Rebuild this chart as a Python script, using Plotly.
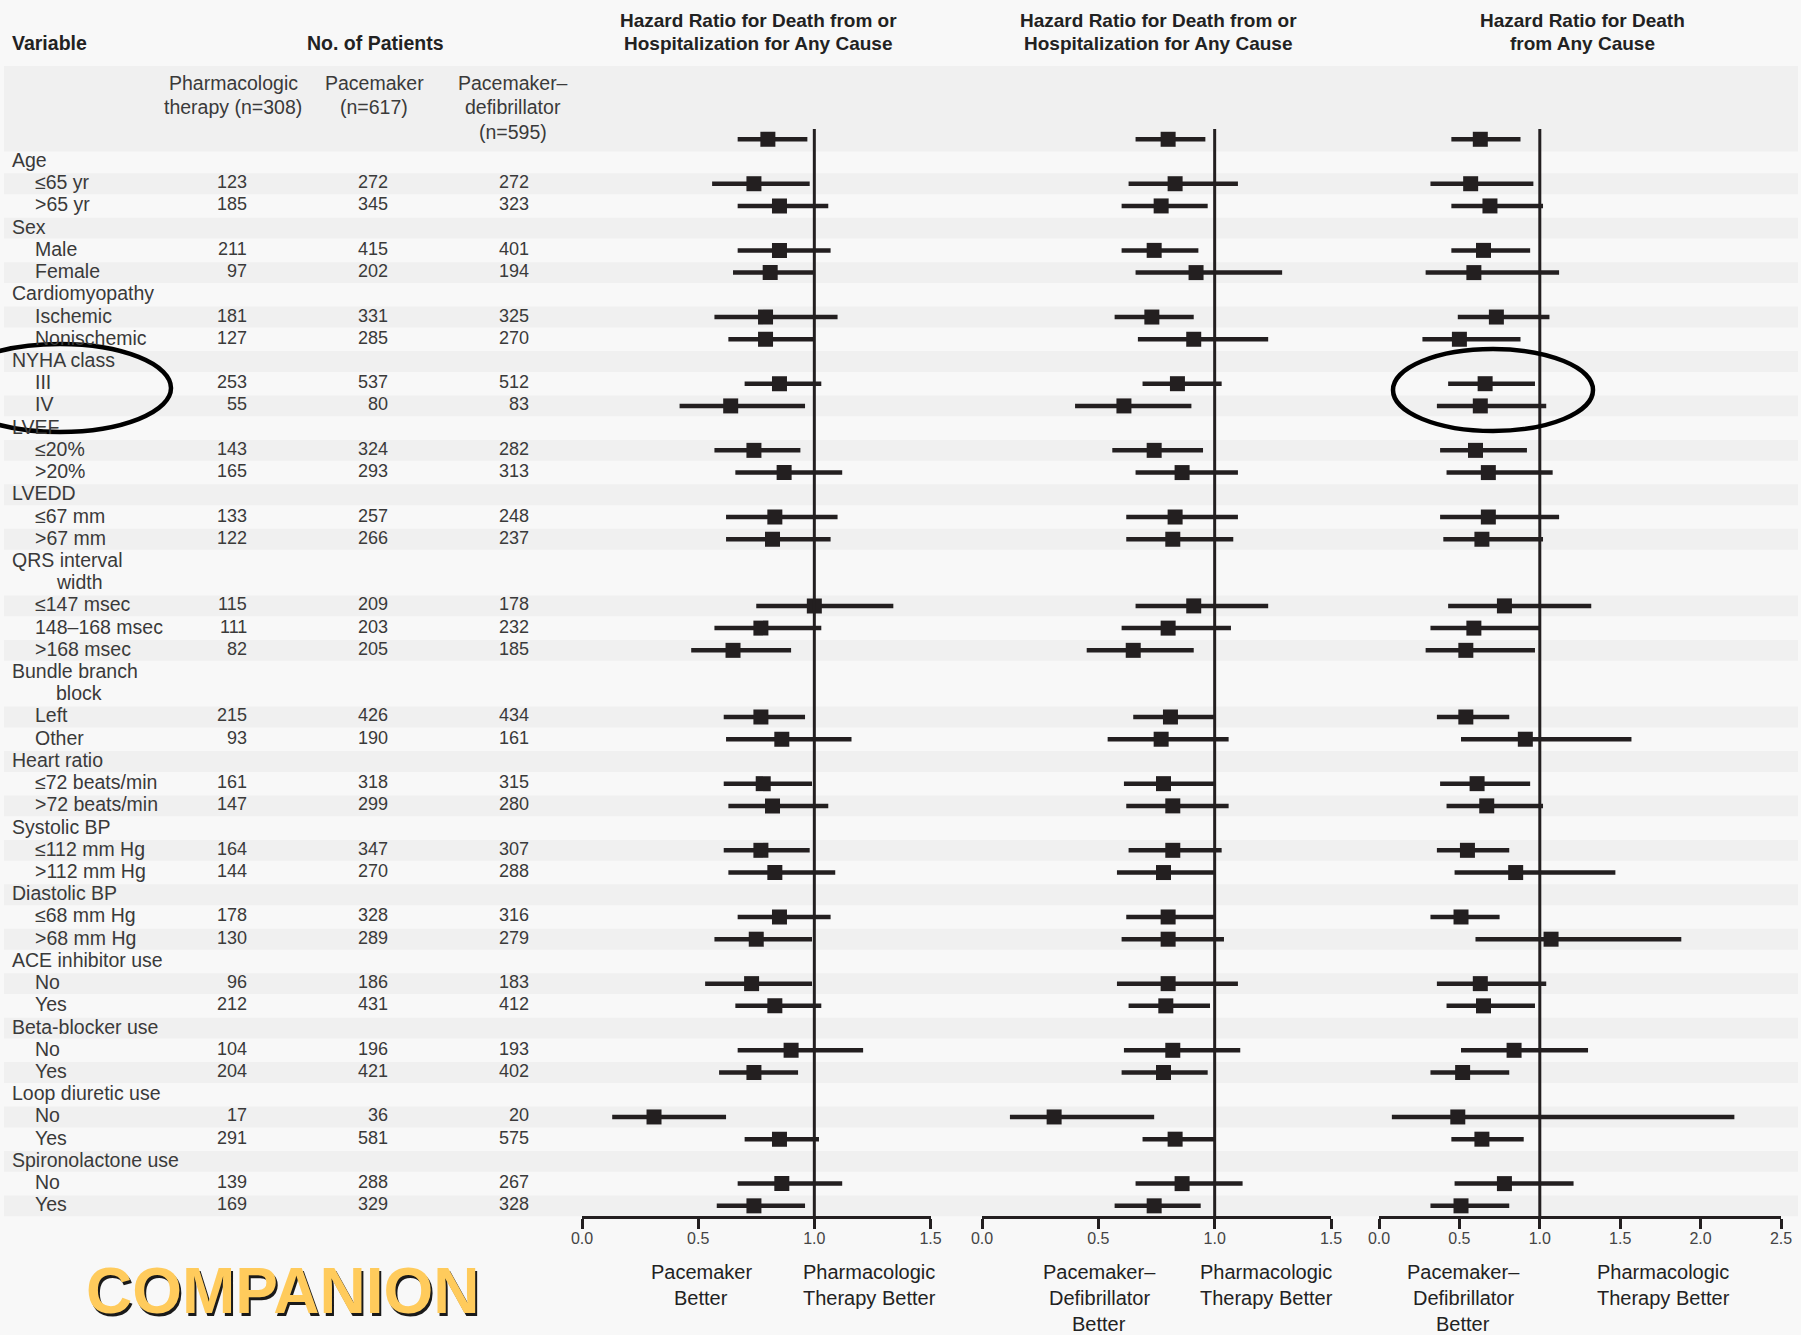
import plotly.graph_objects as go

W, H = 1801, 1335

# ---------------- data ----------------
group_labels = ["Age", "Sex", "Cardiomyopathy", "NYHA class", "LVEF", "LVEDD",
                "QRS interval\nwidth", "Bundle branch\nblock", "Heart ratio", "Systolic BP",
                "Diastolic BP", "ACE inhibitor use", "Beta-blocker use", "Loop diuretic use",
                "Spironolactone use"]
subgroup_labels = [["≤65 yr", ">65 yr"], ["Male", "Female"], ["Ischemic", "Nonischemic"],
                   ["III", "IV"], ["≤20%", ">20%"], ["≤67 mm", ">67 mm"],
                   ["≤147 msec", "148–168 msec", ">168 msec"], ["Left", "Other"],
                   ["≤72 beats/min", ">72 beats/min"], ["≤112 mm Hg", ">112 mm Hg"],
                   ["≤68 mm Hg", ">68 mm Hg"], ["No", "Yes"], ["No", "Yes"], ["No", "Yes"],
                   ["No", "Yes"]]

n_pharm = [123, 185, 211, 97, 181, 127, 253, 55, 143, 165, 133, 122, 115, 111, 82, 215, 93,
           161, 147, 164, 144, 178, 130, 96, 212, 104, 204, 17, 291, 139, 169]
n_pace = [272, 345, 415, 202, 331, 285, 537, 80, 324, 293, 257, 266, 209, 203, 205, 426, 190,
          318, 299, 347, 270, 328, 289, 186, 431, 196, 421, 36, 581, 288, 329]
n_icd = [272, 323, 401, 194, 325, 270, 512, 83, 282, 313, 248, 237, 178, 232, 185, 434, 161,
         315, 280, 307, 288, 316, 279, 183, 412, 193, 402, 20, 575, 267, 328]

# first entry = overall (all patients), then the 31 subgroups in table order
hr_p1 = [0.80, 0.74, 0.85, 0.85, 0.81, 0.79, 0.79, 0.85, 0.64, 0.74, 0.87, 0.83, 0.82, 1.00,
         0.77, 0.65, 0.77, 0.86, 0.78, 0.82, 0.77, 0.83, 0.85, 0.75, 0.73, 0.83, 0.90, 0.74,
         0.31, 0.85, 0.86, 0.74]
lo_p1 = [0.67, 0.56, 0.67, 0.67, 0.65, 0.57, 0.63, 0.70, 0.42, 0.57, 0.66, 0.62, 0.62, 0.75,
         0.57, 0.47, 0.61, 0.62, 0.61, 0.63, 0.61, 0.63, 0.67, 0.57, 0.53, 0.66, 0.67, 0.59,
         0.13, 0.70, 0.67, 0.58]
hi_p1 = [0.97, 0.98, 1.06, 1.07, 1.00, 1.10, 1.00, 1.03, 0.96, 0.94, 1.12, 1.10, 1.07, 1.34,
         1.03, 0.90, 0.96, 1.16, 0.99, 1.06, 0.98, 1.09, 1.07, 0.99, 0.99, 1.03, 1.21, 0.93,
         0.62, 1.02, 1.12, 0.96]

hr_p2 = [0.80, 0.83, 0.77, 0.74, 0.92, 0.73, 0.91, 0.84, 0.61, 0.74, 0.86, 0.83, 0.82, 0.91,
         0.80, 0.65, 0.81, 0.77, 0.78, 0.82, 0.82, 0.78, 0.80, 0.80, 0.80, 0.79, 0.82, 0.78,
         0.31, 0.83, 0.86, 0.74]
lo_p2 = [0.66, 0.63, 0.60, 0.60, 0.66, 0.57, 0.67, 0.69, 0.40, 0.56, 0.66, 0.62, 0.62, 0.66,
         0.60, 0.45, 0.65, 0.54, 0.61, 0.62, 0.63, 0.58, 0.62, 0.60, 0.58, 0.63, 0.61, 0.60,
         0.12, 0.69, 0.66, 0.57]
hi_p2 = [0.96, 1.10, 0.97, 0.93, 1.29, 0.91, 1.23, 1.03, 0.90, 0.95, 1.10, 1.10, 1.08, 1.23,
         1.07, 0.91, 1.00, 1.06, 1.00, 1.06, 1.03, 1.00, 1.00, 1.04, 1.10, 0.98, 1.11, 0.97,
         0.74, 1.00, 1.12, 0.94]

hr_p3 = [0.63, 0.57, 0.69, 0.65, 0.59, 0.73, 0.50, 0.66, 0.63, 0.60, 0.68, 0.68, 0.64, 0.78,
         0.59, 0.54, 0.54, 0.91, 0.61, 0.67, 0.55, 0.85, 0.51, 1.07, 0.63, 0.65, 0.84, 0.52,
         0.49, 0.64, 0.78, 0.51]
lo_p3 = [0.45, 0.32, 0.45, 0.45, 0.29, 0.49, 0.27, 0.43, 0.36, 0.38, 0.42, 0.38, 0.40, 0.43,
         0.32, 0.29, 0.36, 0.51, 0.38, 0.42, 0.36, 0.47, 0.32, 0.60, 0.36, 0.42, 0.51, 0.32,
         0.08, 0.45, 0.47, 0.32]
hi_p3 = [0.88, 0.96, 1.02, 0.94, 1.12, 1.06, 0.88, 0.97, 1.04, 0.92, 1.08, 1.12, 1.02, 1.32,
         1.00, 0.97, 0.81, 1.57, 0.94, 1.02, 0.81, 1.47, 0.75, 1.88, 1.04, 0.97, 1.30, 0.81,
         2.21, 0.90, 1.21, 0.81]

panel_titles = ["Hazard Ratio for Death from or\nHospitalization for Any Cause",
                "Hazard Ratio for Death from or\nHospitalization for Any Cause",
                "Hazard Ratio for Death\nfrom Any Cause"]
left_labels = ["Pacemaker\nBetter", "Pacemaker–\nDefibrillator\nBetter",
               "Pacemaker–\nDefibrillator\nBetter"]
right_labels = ["Pharmacologic\nTherapy Better", "Pharmacologic\nTherapy Better",
                "Pharmacologic\nTherapy Better"]
col_headers = ["Pharmacologic\ntherapy (n=308)", "Pacemaker\n(n=617)",
               "Pacemaker–\ndefibrillator\n(n=595)"]
x_ticks_p12 = [0.0, 0.5, 1.0, 1.5]
x_ticks_p3 = [0.0, 0.5, 1.0, 1.5, 2.0, 2.5]

# ---------------- style ----------------
INK = "#231f20"
TXT = "#3a3a3a"
BG = "#f8f8f8"
STRIPE = "#f0f0f0"
FONT = "Liberation Sans, Arial, sans-serif"

Y0, DY = 161.5, 22.22          # pixel of line 0, pixel per line


def line_to_px(k):
    return Y0 + DY * k


def px_to_paper_y(p):
    return 1 - p / H


# ---------------- build table lines ----------------
lines = []          # (text, indent level, line index)
sub_rows = []       # line index of each subgroup row
stripe_rows = []    # (first line, last line) for gray rows
k = 0
logical = 0
for g, subs in zip(group_labels, subgroup_labels):
    parts = g.split("\n")
    for j, part in enumerate(parts):
        lines.append((part, 0 if j == 0 else 2, k))
        k += 1
    if logical % 2 == 1:
        stripe_rows.append((k - len(parts), k - 1))
    logical += 1
    for s in subs:
        lines.append((s, 1, k))
        sub_rows.append(k)
        if logical % 2 == 1:
            stripe_rows.append((k, k))
        logical += 1
        k += 1

row_y = [-1] + sub_rows

fig = go.Figure()

panels = [("x", hr_p1, lo_p1, hi_p1), ("x2", hr_p2, lo_p2, hi_p2), ("x3", hr_p3, lo_p3, hi_p3)]
for ax, hr, lo, hi in panels:
    fig.add_trace(go.Scatter(
        x=hr, y=row_y, xaxis=ax, yaxis="y", mode="markers",
        marker=dict(symbol="square", size=15, color=INK),
        error_x=dict(type="data", symmetric=False,
                     array=[h - m for h, m in zip(hi, hr)],
                     arrayminus=[m - l for m, l in zip(hr, lo)],
                     thickness=4.5, width=0, color=INK),
        showlegend=False, hoverinfo="skip"))

shapes = []
# header band
shapes.append(dict(type="rect", xref="paper", yref="paper", layer="below",
                   x0=4 / W, x1=1798 / W, y0=px_to_paper_y(151.5), y1=px_to_paper_y(66),
                   fillcolor=STRIPE, line=dict(width=0)))
for a, b in stripe_rows:
    shapes.append(dict(type="rect", xref="paper", yref="y", layer="below",
                       x0=4 / W, x1=1798 / W, y0=a - 0.47, y1=b + 0.47,
                       fillcolor=STRIPE, line=dict(width=0)))
# reference lines at HR = 1
for ax in ["x", "x2", "x3"]:
    shapes.append(dict(type="line", xref=ax, yref="paper", x0=1, x1=1,
                       y0=px_to_paper_y(1216), y1=px_to_paper_y(129),
                       line=dict(color=INK, width=3)))
# hand-drawn ellipses
shapes.append(dict(type="circle", xref="paper", yref="paper",
                   x0=-51 / W, x1=171 / W, y0=px_to_paper_y(432), y1=px_to_paper_y(344),
                   line=dict(color="black", width=4.5)))
shapes.append(dict(type="circle", xref="paper", yref="paper",
                   x0=1393 / W, x1=1593 / W, y0=px_to_paper_y(431), y1=px_to_paper_y(349),
                   line=dict(color="black", width=4.5)))

annotations = []


def ann(xp, yp, text, size=19, xanchor="left", bold=False, color=TXT, family=FONT):
    annotations.append(dict(
        x=xp / W, y=px_to_paper_y(yp), xref="paper", yref="paper",
        text=f"<b>{text}</b>" if bold else text, showarrow=False,
        xanchor=xanchor, yanchor="middle", align=xanchor, borderpad=0,
        font=dict(family=family, size=size, color=color)))


def multiline(xc, ys, text, **kw):
    for yy, t in zip(ys, text.split("\n")):
        ann(xc, yy, t, xanchor="center", **kw)


# header
ann(11, 43, "Variable", bold=True, color="#222", size=19.5)
ann(375, 43, "No. of Patients", xanchor="center", bold=True, color="#222", size=19.5)
for xc, t in zip([233, 374, 513], col_headers):
    multiline(xc, [83, 107, 132], t, size=19.5)
for xc, t in zip([758, 1158, 1582], panel_titles):
    multiline(xc, [20.5, 43.5], t, bold=True, color="#222", size=19)

# row labels
indent_x = [11, 34, 55]
for text, lvl, kk in lines:
    ann(indent_x[lvl], line_to_px(kk) - 1.5, text, size=19.5)

# patient numbers
for col_x, vals in zip([248, 389, 530], [n_pharm, n_pace, n_icd]):
    for kk, v in zip(sub_rows, vals):
        ann(col_x, line_to_px(kk) - 1.5, str(v), xanchor="right", size=18)

# favour labels
for xc, t in zip([701, 1099, 1463], left_labels):
    multiline(xc, [1272, 1298, 1324], t, size=20, color="#222")
for xc, t in zip([869, 1266, 1663], right_labels):
    multiline(xc, [1272, 1298, 1324], t, size=20, color="#222")

# COMPANION logo
ann(284.5, 1293.5, "COMPANION", size=64, xanchor="center", bold=True, color="#1a1a1a")
ann(282, 1291, "COMPANION", size=64, xanchor="center", bold=True, color="#ffcb5c")

axis_pos = 1 - 1216.5 / H
common_x = dict(anchor="free", position=axis_pos, showline=True, linecolor=INK, linewidth=3,
                ticks="outside", ticklen=10, tickwidth=3, tickcolor=INK, showgrid=False,
                zeroline=False, fixedrange=True, automargin=False, ticklabelstandoff=-4,
                tickfont=dict(family=FONT, size=16, color="#444"))

ytop = -Y0 / DY
ybot = (H - Y0) / DY

fig.update_layout(
    width=W, height=H, autosize=False,
    margin=dict(l=0, r=0, t=0, b=0, pad=0, autoexpand=False),
    paper_bgcolor=BG, plot_bgcolor="rgba(0,0,0,0)",
    xaxis=dict(domain=[582 / W, 930.5 / W], range=[0, 1.5], tickvals=x_ticks_p12,
               ticktext=[f"{v:.1f}" for v in x_ticks_p12], **common_x),
    xaxis2=dict(domain=[982 / W, 1331 / W], range=[0, 1.5], tickvals=x_ticks_p12,
                ticktext=[f"{v:.1f}" for v in x_ticks_p12], **common_x),
    xaxis3=dict(domain=[1379 / W, 1781 / W], range=[0, 2.5], tickvals=x_ticks_p3,
                ticktext=[f"{v:.1f}" for v in x_ticks_p3], **common_x),
    yaxis=dict(domain=[0, 1], range=[ybot, ytop], visible=False, fixedrange=True),
    shapes=shapes, annotations=annotations, showlegend=False,
)

fig.write_html("out.html")
